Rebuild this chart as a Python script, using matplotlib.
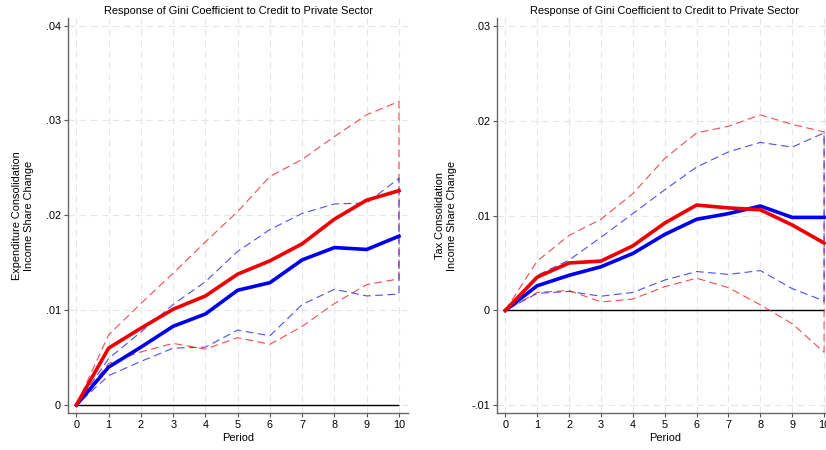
import matplotlib
matplotlib.use('Agg')
import matplotlib.pyplot as plt # plotting library
from matplotlib.ticker import FuncFormatter

plt.rcParams['font.family'] = ['Liberation Sans', 'DejaVu Sans']

# periods
period = [0, 1, 2, 3, 4, 5, 6, 7, 8, 9, 10]

# expenditure consolidation (left panel)
exp_red = [0, 0.0060, 0.0081, 0.0101, 0.0115, 0.0138, 0.0152, 0.0170, 0.0196, 0.0216, 0.0226]
exp_red_hi = [0, 0.0074, 0.0107, 0.0139, 0.0172, 0.0204, 0.0241, 0.0259, 0.0283, 0.0306, 0.0320]
exp_red_lo = [0, 0.0044, 0.0056, 0.0065, 0.0059, 0.0071, 0.0064, 0.0083, 0.0107, 0.0127, 0.0133]
exp_blue = [0, 0.0040, 0.0061, 0.0083, 0.0096, 0.0121, 0.0129, 0.0153, 0.0166, 0.0164, 0.0178]
exp_blue_hi = [0, 0.0049, 0.0077, 0.0106, 0.0130, 0.0162, 0.0185, 0.0202, 0.0212, 0.0213, 0.0239]
exp_blue_lo = [0, 0.0031, 0.0046, 0.0060, 0.0061, 0.0079, 0.0073, 0.0106, 0.0122, 0.0115, 0.0117]

# tax consolidation (right panel)
tax_red = [0, 0.0035, 0.0050, 0.0052, 0.0068, 0.0092, 0.0111, 0.0108, 0.0106, 0.0090, 0.0071]
tax_red_hi = [0, 0.0052, 0.0079, 0.0096, 0.0123, 0.0160, 0.0187, 0.0194, 0.0206, 0.0196, 0.0188]
tax_red_lo = [0, 0.0019, 0.0021, 0.0009, 0.0012, 0.0025, 0.0034, 0.0024, 0.0006, -0.0014, -0.0044]
tax_blue = [0, 0.0026, 0.0037, 0.0046, 0.0060, 0.0080, 0.0096, 0.0102, 0.0110, 0.0098, 0.0098]
tax_blue_hi = [0, 0.0037, 0.0053, 0.0077, 0.0102, 0.0127, 0.0151, 0.0167, 0.0177, 0.0172, 0.0187]
tax_blue_lo = [0, 0.0018, 0.0020, 0.0015, 0.0019, 0.0032, 0.0041, 0.0038, 0.0042, 0.0023, 0.0010]

title = 'Response of Gini Coefficient to Credit to Private Sector'
exp_ylabel = 'Expenditure Consolidation\nIncome Share Change'
tax_ylabel = 'Tax Consolidation\nIncome Share Change'
exp_yticks = [0, 0.01, 0.02, 0.03, 0.04]
tax_yticks = [-0.01, 0, 0.01, 0.02, 0.03]


def stata_fmt(v, pos): # .01 style labels
    if abs(v) < 1e-12:
        return '0'
    s = ('%g' % round(v, 4))
    return s.replace('0.', '.')


def band(ax, lo, hi, color): # outline of the confidence area
    xs = period + period[::-1]
    ys = hi + lo[::-1]
    ax.plot(xs, ys, color=color, lw=0.8, dashes=(7, 4), alpha=0.8, zorder=3)


def panel(ax, red, red_hi, red_lo, blue, blue_hi, blue_lo, yticks, ylim, ylabel, lab_x):
    ax.set_xlim(-0.26, 10.28)
    ax.set_ylim(*ylim)
    ax.set_xticks(period)
    ax.set_yticks(yticks)
    ax.yaxis.set_major_formatter(FuncFormatter(stata_fmt))
    ax.grid(True, color='#e6e6e6', lw=0.8, dashes=(6, 4))
    ax.set_axisbelow(True)
    for s in ['top', 'right']:
        ax.spines[s].set_visible(False)
    for s in ['left', 'bottom']:
        ax.spines[s].set_color('#666666')
        ax.spines[s].set_linewidth(1.0)
    ax.tick_params(labelsize=7.8, length=3, color='#555555', pad=2)
    ax.hlines(0, period[0], period[-1], color='black', lw=1.0, zorder=2)
    band(ax, red_lo, red_hi, '#ee2222')
    band(ax, blue_lo, blue_hi, '#2222ee')
    ax.plot(period, blue, color='#0000ee', lw=2.6, zorder=4)
    ax.plot(period, red, color='#ee0000', lw=2.6, zorder=5)
    ax.set_title(title, fontsize=7.9, pad=3)
    ax.set_ylabel(ylabel, fontsize=7.9)
    ax.yaxis.set_label_coords(lab_x, 0.5)
    ax.set_xlabel('Period', fontsize=7.9)
    ax.xaxis.set_label_coords(0.5, -0.05)


fig = plt.figure(figsize=(8.26, 4.5), dpi=100)
ax1 = fig.add_axes([68/826, 1-413/450, 340/826, 395/450])
ax2 = fig.add_axes([497/826, 1-413/450, 336/826, 395/450])

panel(ax1, exp_red, exp_red_hi, exp_red_lo, exp_blue, exp_blue_hi, exp_blue_lo,
      exp_yticks, (-0.00084, 0.0408), exp_ylabel, -0.10)
panel(ax2, tax_red, tax_red_hi, tax_red_lo, tax_blue, tax_blue_hi, tax_blue_lo,
      tax_yticks, (-0.0108, 0.0308), tax_ylabel, -0.12)

fig.savefig('out.png', dpi=100)
